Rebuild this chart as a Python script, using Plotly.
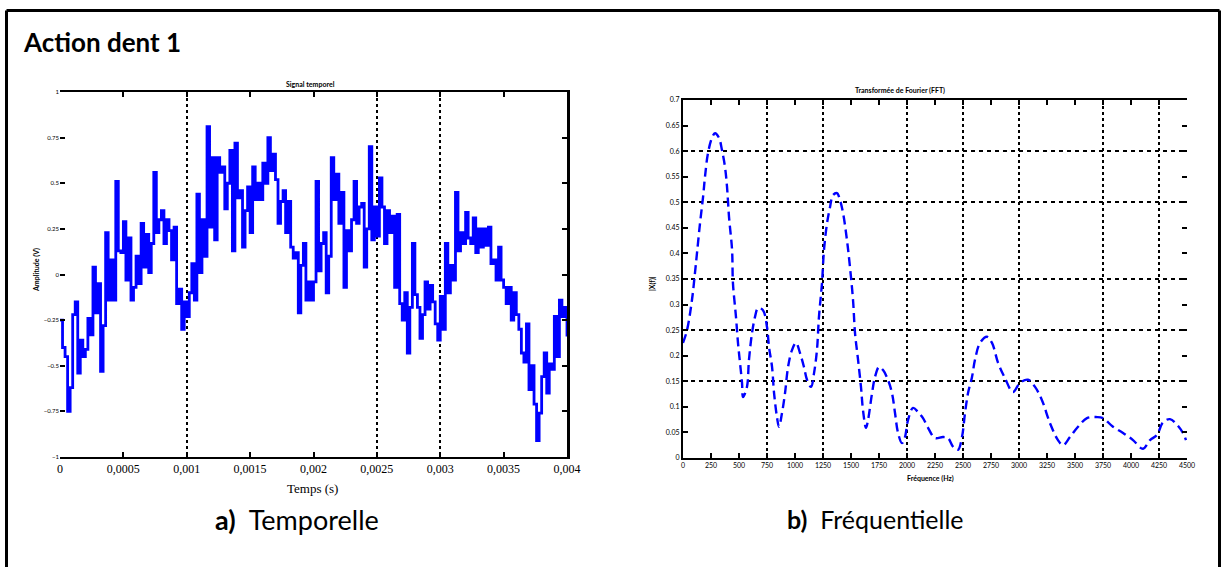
import plotly.graph_objects as go

# ---------------- data ----------------
# Left: time signal sampled every 20 microseconds from 0 to 0.004 s
DT = 2e-5
signal = [
    -0.25, -0.40, -0.45, -0.75, -0.62, -0.22, -0.15, -0.54, -0.36, -0.45,
    -0.41, -0.24, -0.33, 0.04, -0.21, -0.05, -0.53, -0.28, 0.23, -0.14,
    0.08, -0.14, 0.51, 0.13, 0.12, 0.29, -0.03, 0.20, -0.14, -0.07,
    0.10, -0.05, 0.28, 0.04, 0.22, 0.01, 0.17, 0.56, 0.23, 0.30,
    0.35, 0.17, 0.30, 0.24, 0.08, 0.26, -0.16, -0.08, -0.30, -0.15,
    -0.23, -0.10, 0.06, -0.14, 0.44, 0.01, 0.30, 0.10, 0.81, 0.26,
    0.64, 0.19, 0.64, 0.56, 0.59, 0.36, 0.50, 0.68, 0.13, 0.72,
    0.42, 0.46, 0.15, 0.35, 0.48, 0.23, 0.59, 0.41, 0.50, 0.41,
    0.61, 0.50, 0.75, 0.57, 0.66, 0.52, 0.28, 0.40, 0.46, 0.23,
    0.40, 0.15, 0.09, 0.12, -0.21, 0.05, 0.17, -0.14, -0.04, -0.14,
    -0.04, 0.51, 0.02, 0.17, 0.23, -0.10, 0.10, 0.64, 0.41, 0.55,
    0.28, 0.45, -0.07, 0.24, 0.13, 0.30, 0.51, 0.28, 0.37, 0.39,
    0.04, 0.25, 0.70, 0.19, 0.37, 0.21, 0.53, 0.37, 0.17, 0.35,
    0.23, 0.32, -0.07, 0.33, -0.16, -0.25, -0.10, -0.43, -0.18, 0.17,
    -0.11, -0.18, -0.35, -0.22, -0.04, -0.19, -0.06, -0.15, -0.27, -0.36,
    -0.12, -0.30, 0.17, -0.10, 0.05, -0.03, 0.45, 0.13, 0.23, 0.17,
    0.34, 0.20, 0.17, 0.31, 0.12, 0.25, 0.15, 0.25, 0.16, 0.26,
    0.06, 0.08, -0.03, 0.15, -0.03, -0.07, -0.16, -0.07, -0.25, -0.10,
    -0.22, -0.30, -0.43, -0.48, -0.27, -0.63, -0.50, -0.71, -0.91, -0.76,
    -0.56, -0.43, -0.65, -0.49, -0.52, -0.23, -0.45, -0.14, -0.23, -0.18,
    -0.34,
]
time_s = [i * DT for i in range(len(signal))]

# Right: spectrum
freq_hz = [
    0, 36, 80, 107, 125, 152, 179, 196, 223, 259, 286, 321, 348, 375, 393, 411,
    438, 446, 473, 491, 509, 527, 536, 571, 589, 616, 643, 670, 714, 750, 768,
    795, 813, 839, 857, 884, 911, 938, 973, 1009, 1045, 1080, 1107, 1143, 1170,
    1196, 1214, 1241, 1259, 1286, 1313, 1339, 1375, 1402, 1429, 1464, 1491,
    1518, 1536, 1563, 1589, 1607, 1634, 1652, 1688, 1714, 1750, 1786, 1830,
    1866, 1893, 1920, 1955, 1982, 2009, 2054, 2098, 2143, 2188, 2250, 2321,
    2366, 2411, 2455, 2491, 2518, 2545, 2580, 2607, 2652, 2714, 2759, 2813,
    2875, 2946, 3009, 3080, 3143, 3205, 3277, 3348, 3393, 3455, 3527, 3607,
    3696, 3750, 3839, 3929, 4018, 4107, 4170, 4232, 4286, 4348, 4411, 4464, 4491,
]
spectrum = [
    0.225, 0.250, 0.309, 0.362, 0.401, 0.459, 0.510, 0.549, 0.596, 0.626, 0.635,
    0.626, 0.602, 0.569, 0.530, 0.471, 0.407, 0.342, 0.276, 0.225, 0.186, 0.147,
    0.119, 0.139, 0.192, 0.244, 0.276, 0.293, 0.289, 0.256, 0.217, 0.178, 0.127,
    0.080, 0.061, 0.088, 0.127, 0.178, 0.211, 0.225, 0.205, 0.178, 0.153, 0.139,
    0.166, 0.211, 0.276, 0.342, 0.407, 0.459, 0.491, 0.514, 0.518, 0.504, 0.479,
    0.426, 0.373, 0.309, 0.244, 0.192, 0.139, 0.094, 0.059, 0.074, 0.127, 0.158,
    0.178, 0.172, 0.153, 0.127, 0.088, 0.049, 0.029, 0.041, 0.074, 0.098, 0.090,
    0.078, 0.059, 0.039, 0.041, 0.039, 0.022, 0.016, 0.041, 0.088, 0.127, 0.158,
    0.192, 0.225, 0.237, 0.225, 0.186, 0.156, 0.129, 0.147, 0.153, 0.139, 0.113,
    0.068, 0.035, 0.025, 0.041, 0.061, 0.078, 0.080, 0.078, 0.061, 0.049, 0.035,
    0.018, 0.035, 0.045, 0.070, 0.076, 0.065, 0.049, 0.035,
]

# ticks / grids
T_TICKS = [0, 0.0005, 0.001, 0.0015, 0.002, 0.0025, 0.003, 0.0035, 0.004]
T_LABELS = ["0", "0,0005", "0,001", "0,0015", "0,002", "0,0025", "0,003", "0,0035", "0,004"]
T_GRID = [0.001, 0.0025, 0.003]
A_TICKS = [-1, -0.75, -0.5, -0.25, 0, 0.25, 0.5, 0.75, 1]
F_TICKS = [0, 250, 500, 750, 1000, 1250, 1500, 1750, 2000, 2250, 2500, 2750,
           3000, 3250, 3500, 3750, 4000, 4250, 4500]
F_GRID = [750, 1250, 2000, 2500, 3000, 3750, 4250]
S_TICKS = [0, 0.05, 0.1, 0.15, 0.2, 0.25, 0.3, 0.35, 0.4, 0.45, 0.5, 0.55, 0.6, 0.65, 0.7]
S_GRID = [0.15, 0.25, 0.35, 0.5, 0.6]

W, H = 1226, 567
def px(x):
    return x / W
def py(y):
    return 1 - y / H

LX = [px(60), px(567)]
LY = [py(457), py(92)]
RX = [px(683), px(1187)]
RY = [py(458), py(100)]

BLUE = "#0000ff"
SERIF = "Liberation Serif"
SANS = "Lato"
GRIDDOT = dict(showgrid=True, gridcolor="black", gridwidth=1.8, griddash="dot")

fig = go.Figure()
fig.add_trace(go.Scatter(x=time_s, y=signal, mode="lines", line=dict(color=BLUE, width=2.8, shape="hv"),
                         xaxis="x", yaxis="y", showlegend=False, hoverinfo="skip"))
fig.add_trace(go.Scatter(x=freq_hz, y=spectrum, mode="lines",
                         line=dict(color=BLUE, width=2.4, dash="9px,5px", shape="spline"),
                         xaxis="x2", yaxis="y2", showlegend=False, hoverinfo="skip"))
# helper traces to activate overlay axes (grids / right-side frames)
for xa, ya in [("x3", "y3"), ("x4", "y4"), ("x4", "y5")]:
    fig.add_trace(go.Scatter(x=[], y=[], xaxis=xa, yaxis=ya, showlegend=False, hoverinfo="skip"))

common_line = dict(linecolor="black", linewidth=2, tickcolor="black", zeroline=False)

fig.update_layout(
    width=W, height=H, margin=dict(l=0, r=0, t=0, b=0),
    paper_bgcolor="white", plot_bgcolor="white",
    xaxis=dict(domain=LX, anchor="y", range=[0, 0.004], tickmode="array", tickvals=T_TICKS,
               ticktext=T_LABELS, ticks="inside", ticklen=5, tickwidth=2, showline=True,
               mirror="ticks", showgrid=False, tickfont=dict(family=SERIF, size=12, color="black"),
               automargin=False, **common_line),
    yaxis=dict(domain=LY, anchor="x", range=[-1, 1], tickmode="array", tickvals=A_TICKS,
               ticks="inside", ticklen=5, tickwidth=2, showline=False, showgrid=False,
               tickfont=dict(family=SANS, size=6, color="black"), automargin=False, **common_line),
    xaxis3=dict(overlaying="x", anchor="y", range=[0, 0.004], tickmode="array", tickvals=T_GRID,
                showticklabels=False, ticks="", showline=False, zeroline=False, **GRIDDOT),
    yaxis3=dict(overlaying="y", anchor="x", side="right", range=[-1, 1], tickmode="array",
                tickvals=A_TICKS, ticks="inside", ticklen=5, tickwidth=2, showticklabels=False,
                showline=True, showgrid=False, linecolor="black", linewidth=2.5,
                tickcolor="black", zeroline=False),
    xaxis2=dict(domain=RX, anchor="y2", range=[0, 4500], tickmode="array", tickvals=F_TICKS,
                ticks="inside", ticklen=5, tickwidth=2, showline=True, mirror="ticks",
                showgrid=False, tickfont=dict(family=SANS, size=7, color="black"),
                automargin=False, **common_line),
    yaxis2=dict(domain=RY, anchor="x2", range=[0, 0.7], tickmode="array", tickvals=S_TICKS,
                ticks="inside", ticklen=5, tickwidth=2, showline=True, mirror=False,
                showgrid=False, tickfont=dict(family=SANS, size=7, color="black"),
                automargin=False, **common_line),
    xaxis4=dict(overlaying="x2", anchor="y2", range=[0, 4500], tickmode="array", tickvals=F_GRID,
                showticklabels=False, ticks="", showline=False, zeroline=False, **GRIDDOT),
    yaxis4=dict(overlaying="y2", anchor="x2", side="right", range=[0, 0.7], tickmode="array",
                tickvals=S_TICKS, ticks="inside", ticklen=5, tickwidth=2, showticklabels=False,
                showline=False, showgrid=False, tickcolor="black", zeroline=False),
    yaxis5=dict(overlaying="y2", anchor="x2", range=[0, 0.7], tickmode="array", tickvals=S_GRID,
                showticklabels=False, ticks="", showline=False, zeroline=False,
                showgrid=True, gridcolor="black", gridwidth=1.8, griddash="4px,4px"),
)

# outer frame (open at bottom)
for x0, y0, x1, y1 in [(6.5, 10.5, 1219.5, 10.5), (6.5, 10.5, 6.5, 580), (1219.5, 10.5, 1219.5, 580)]:
    fig.add_shape(type="line", xref="paper", yref="paper", x0=px(x0), y0=py(y0), x1=px(x1), y1=py(y1),
                  line=dict(color="black", width=3))

def ann(text, x, y, size, family=SANS, color="black", xanchor="center", textangle=0):
    fig.add_annotation(text=text, x=px(x), y=py(y), xref="paper", yref="paper", showarrow=False,
                       xanchor=xanchor, yanchor="middle", textangle=textangle,
                       font=dict(family=family, size=size, color=color))

ann("<b>Action dent 1</b>", 21, 42, 26, xanchor="left")
ann("<b>a)</b>  Temporelle", 297, 519, 27)
ann("<b>b)</b>  Fréquentielle", 875, 519, 25)
ann("Temps (s)", 312, 488, 13, family=SERIF)
ann("<b>Signal temporel</b>", 310, 84, 7)
ann("<b>Amplitude (V)</b>", 36, 270, 7, textangle=-90)
ann("<b>Transformée de Fourier (FFT)</b>", 900, 90, 7)
ann("<b>Fréquence (Hz)</b>", 930, 478, 7)
ann("<b>|X(f)|</b>", 652, 283, 7, textangle=-90)

fig.write_html(
    "out.html",
    config={"displayModeBar": False},
    post_script="document.body.style.margin='0';document.body.style.padding='0';"
                "document.body.style.overflow='hidden';",
)
